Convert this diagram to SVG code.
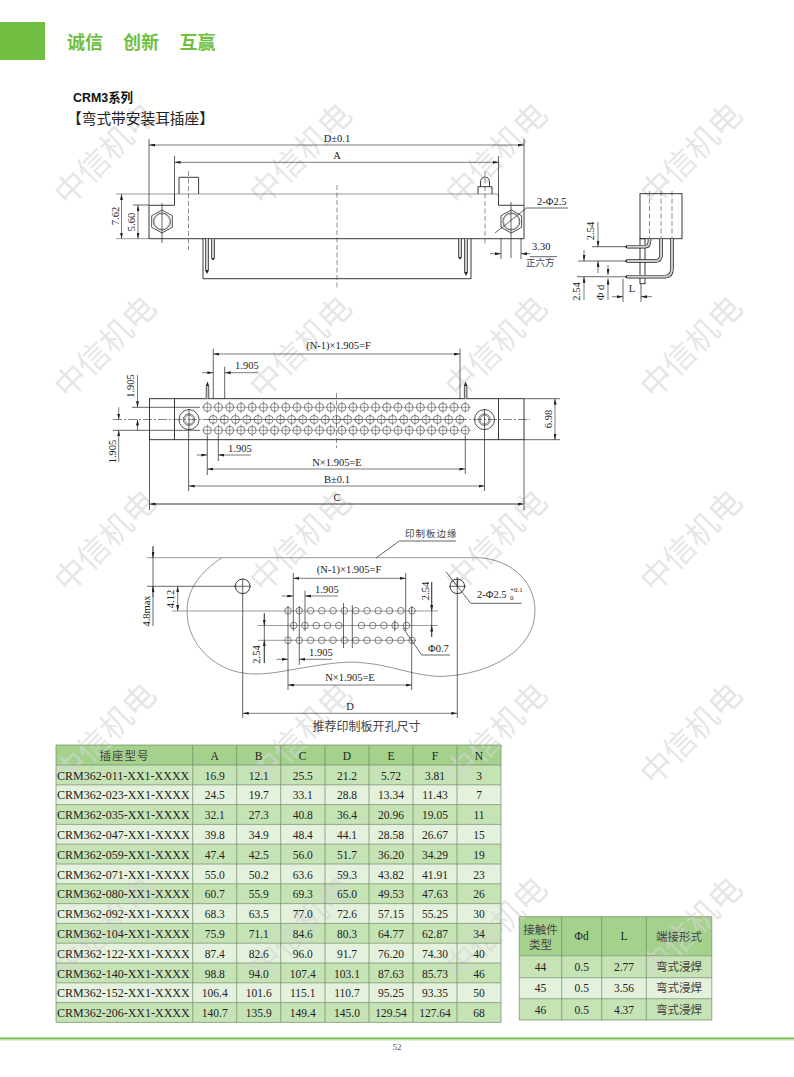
<svg xmlns="http://www.w3.org/2000/svg" xmlns:xlink="http://www.w3.org/1999/xlink" width="794" height="1077" viewBox="0 0 794 1077">
<style>
text{font-family:"Liberation Serif","Noto Sans CJK SC",serif;font-size:10.5px;fill:#222}
.m{text-anchor:middle}
.cj{font-family:"Noto Sans CJK SC",sans-serif;fill:#444}
.l{fill:none;stroke:#222;stroke-width:.7}
.o{fill:none;stroke:#222;stroke-width:.9}
.g{fill:none;stroke:#999;stroke-width:1}
.c{fill:none;stroke:#333;stroke-width:.6;stroke-dasharray:9 2 2 2}
.h{fill:none;stroke:#444;stroke-width:.6;stroke-dasharray:5 2.5}
.e{fill:none;stroke:#222;stroke-width:.6;marker-end:url(#a)}
.b{fill:none;stroke:#222;stroke-width:.6;marker-start:url(#a);marker-end:url(#a)}
.po{fill:none;stroke:#222;stroke-width:3.6}
.pi{fill:none;stroke:#ccc;stroke-width:2.2}
.hd{fill:#a4d28c}.d1{fill:#c6e3b6}.d2{fill:#e4f1dc}
.gr{fill:none;stroke:#6f8a66;stroke-width:.7}
.wm{font-family:"Noto Sans CJK SC",sans-serif;font-size:32px;fill:#d6d6d6;fill-opacity:.6;text-anchor:middle}
.t{font-size:11.5px;text-anchor:middle}
.tm{font-size:12px}
</style>
<defs>
<marker id="a" viewBox="0 0 6 3" refX="6" refY="1.5" markerWidth="6" markerHeight="3" markerUnits="userSpaceOnUse" orient="auto-start-reverse"><path d="M0 0L6 1.5L0 3z" fill="#222"/></marker>
<g id="p"><circle r="4" fill="none" stroke="#333" stroke-width=".6"/><path d="M0-6V6M-5.500 0H5.500" stroke="#444" stroke-width=".5"/></g>
<g id="r1"><use href="#p" x="207.300"/><use href="#p" x="218.500"/><use href="#p" x="229.700"/><use href="#p" x="241"/><use href="#p" x="252.200"/><use href="#p" x="263.400"/><use href="#p" x="274.600"/><use href="#p" x="285.800"/><use href="#p" x="297"/><use href="#p" x="308.300"/><use href="#p" x="319.500"/><use href="#p" x="330.700"/><use href="#p" x="341.900"/><use href="#p" x="353.100"/><use href="#p" x="364.300"/><use href="#p" x="375.600"/><use href="#p" x="386.800"/><use href="#p" x="398"/><use href="#p" x="409.200"/><use href="#p" x="420.400"/><use href="#p" x="431.600"/><use href="#p" x="442.900"/><use href="#p" x="454.100"/><use href="#p" x="465.300"/></g>
<g id="r2"><use href="#p" x="213.100"/><use href="#p" x="224.300"/><use href="#p" x="235.500"/><use href="#p" x="246.800"/><use href="#p" x="258"/><use href="#p" x="269.200"/><use href="#p" x="280.400"/><use href="#p" x="291.600"/><use href="#p" x="302.800"/><use href="#p" x="314.100"/><use href="#p" x="325.300"/><use href="#p" x="336.500"/><use href="#p" x="347.700"/><use href="#p" x="358.900"/><use href="#p" x="370.100"/><use href="#p" x="381.400"/><use href="#p" x="392.600"/><use href="#p" x="403.800"/><use href="#p" x="415"/><use href="#p" x="426.200"/><use href="#p" x="437.400"/><use href="#p" x="448.700"/><use href="#p" x="459.900"/></g>
<circle id="q" r="3.300" fill="none" stroke="#333" stroke-width=".6"/>
<g id="q1"><use href="#q" x="288"/><use href="#q" x="299.300"/><use href="#q" x="310.600"/><use href="#q" x="321.800"/><use href="#q" x="333.100"/><use href="#q" x="344.400"/><use href="#q" x="355.700"/><use href="#q" x="367"/><use href="#q" x="378.200"/><use href="#q" x="389.500"/><use href="#q" x="400.800"/><use href="#q" x="412"/></g>
<g id="hx"><path d="M0-11.500L10.300-5.800V5.800L0 11.500L-10.300 5.800V-5.800Z" fill="none" stroke="#222" stroke-width=".8"/><circle r="8.500" fill="none" stroke="#222" stroke-width=".7"/><circle r="7.600" fill="none" stroke="#555" stroke-width=".4"/></g>
<g id="mt"><circle r="10" fill="none" stroke="#222" stroke-width=".8"/><circle r="5.700" fill="none" stroke="#222" stroke-width=".7"/><circle r="4.400" fill="none" stroke="#222" stroke-width=".5"/></g>
</defs>
<rect width="794" height="1077" fill="#fff"/>
<g id="table-fills">
<rect class="hd" x="56" y="745" width="445" height="20"/>
<rect class="d1" x="56" y="765" width="445" height="19.800"/><rect class="d2" x="56" y="784.800" width="445" height="19.800"/><rect class="d1" x="56" y="804.600" width="445" height="19.800"/><rect class="d2" x="56" y="824.400" width="445" height="19.800"/><rect class="d1" x="56" y="844.200" width="445" height="19.800"/><rect class="d2" x="56" y="864" width="445" height="19.800"/><rect class="d1" x="56" y="883.800" width="445" height="19.800"/><rect class="d2" x="56" y="903.600" width="445" height="19.800"/><rect class="d1" x="56" y="923.400" width="445" height="19.800"/><rect class="d2" x="56" y="943.200" width="445" height="19.800"/><rect class="d1" x="56" y="963" width="445" height="19.800"/><rect class="d2" x="56" y="982.800" width="445" height="19.800"/><rect class="d1" x="56" y="1002.600" width="445" height="19.800"/>
<rect class="hd" x="519.300" y="916.700" width="192.500" height="39"/><rect class="d1" x="519.300" y="955.700" width="192.500" height="22"/><rect class="d2" x="519.300" y="977.700" width="192.500" height="21"/><rect class="d1" x="519.300" y="998.700" width="192.500" height="21.300"/>
</g>
<g id="watermark">
<text class="wm" transform="translate(113 162) rotate(-45)">中信机电</text><text class="wm" transform="translate(308.500 162) rotate(-45)">中信机电</text><text class="wm" transform="translate(504 162) rotate(-45)">中信机电</text><text class="wm" transform="translate(699 162) rotate(-45)">中信机电</text>
<text class="wm" transform="translate(113 355) rotate(-45)">中信机电</text><text class="wm" transform="translate(308.500 355) rotate(-45)">中信机电</text><text class="wm" transform="translate(504 355) rotate(-45)">中信机电</text><text class="wm" transform="translate(699 355) rotate(-45)">中信机电</text>
<text class="wm" transform="translate(113 549) rotate(-45)">中信机电</text><text class="wm" transform="translate(308.500 549) rotate(-45)">中信机电</text><text class="wm" transform="translate(504 549) rotate(-45)">中信机电</text><text class="wm" transform="translate(699 549) rotate(-45)">中信机电</text>
<text class="wm" transform="translate(113 742) rotate(-45)">中信机电</text><text class="wm" transform="translate(308.500 742) rotate(-45)">中信机电</text><text class="wm" transform="translate(504 742) rotate(-45)">中信机电</text><text class="wm" transform="translate(699 742) rotate(-45)">中信机电</text>
<text class="wm" transform="translate(113 936) rotate(-45)">中信机电</text><text class="wm" transform="translate(308.500 936) rotate(-45)">中信机电</text><text class="wm" transform="translate(504 936) rotate(-45)">中信机电</text><text class="wm" transform="translate(699 936) rotate(-45)">中信机电</text>
</g>
<g id="header">
<rect x="0" y="22" width="45" height="38" fill="#70bf41"/>
<text x="67" y="48.500" class="cj" style="font-size:18px;font-weight:700;fill:#70bf41">诚信</text>
<text x="123" y="48.500" class="cj" style="font-size:18px;font-weight:700;fill:#70bf41">创新</text>
<text x="179.500" y="48.500" class="cj" style="font-size:18px;font-weight:700;fill:#70bf41">互赢</text>
<text x="73" y="102" textLength="60" lengthAdjust="spacingAndGlyphs" style="font-family:'Liberation Sans','Noto Sans CJK SC',sans-serif;font-size:13px;font-weight:700;fill:#111">CRM3系列</text>
<text x="67" y="124" class="cj" style="font-size:14.700px;fill:#222">【弯式带安装耳插座】</text>
</g>
<g id="front-view">
<path class="g" d="M116 194H498.500M116 238.700H149"/>
<path class="o" d="M174.500 194V205.300H149V238.700H524V205.300H498.500V194M203 238.700V278.700H471V238.700M179 194V177.300H198.600V194"/>
<path class="l" d="M149 139V205M524 139V205M174.500 156V194M498.500 156V194"/>
<path class="b" d="M149 145H524"/>
<path class="b" d="M174.500 162.300H498.500"/>
<text class="m" x="337" y="141.500">D±0.1</text>
<text class="m" x="337" y="158.500">A</text>
<path class="h" d="M188.500 171V250M337 185V288M485 171V245"/>
<path class="l" d="M162 203V243M511 202V258"/>
<use href="#hx" x="162" y="221.500"/><use href="#hx" x="511.300" y="221.500"/>
<path class="o" d="M478 194V186.700H480.500V183Q480.500 177 485 177Q489.500 177 489.500 183V186.700H492V194M480.500 186.700H489.500"/>
<path class="po" d="M207 238.700V270M213 238.700V258M460 238.700V257M466 238.700V272"/>
<path class="pi" d="M207 238.700V270M213 238.700V258M460 238.700V257M466 238.700V272"/>
<path d="M205 270H209L207 274ZM211 258H215L213 260.500ZM458 257H462L460 259.500ZM464 272H468L466 276Z" fill="#222"/>
<path class="l" d="M133 205H149"/>
<path class="b" d="M121.500 194V238.700"/>
<path class="b" d="M138 205.300V238.700"/>
<text class="m" transform="translate(118.500 216) rotate(-90)">7.62</text>
<text class="m" transform="translate(134.500 222) rotate(-90)">5.60</text>
<path class="l" d="M495 233L526.600 208H568M501 238V259M521 238V259"/>
<path class="e" d="M490 253.700H501"/><path class="e" d="M530.500 253.700H521"/>
<path class="l" d="M530 256.700H557"/>
<text x="537" y="205">2-Φ2.5</text>
<text x="532" y="250">3.30</text>
<text x="526" y="266" class="cj" style="font-size:9.500px">正六方</text>
</g>
<g id="side-view">
<rect class="o" x="640" y="193.700" width="42" height="45"/>
<rect class="o" x="640" y="238.700" width="5" height="45"/>
<path class="h" d="M649.500 191V238M661 191V238M672 191V238"/>
<path class="po" d="M627 246.700H645Q649.500 246.700 649.500 241V238.700M627 261H655Q661 261 661 255V238.700M627 276.700H665Q672 276.700 672 268V238.700"/>
<path class="pi" d="M627 246.700H645Q649.500 246.700 649.500 241V238.700M627 261H655Q661 261 661 255V238.700M627 276.700H665Q672 276.700 672 268V238.700"/>
<path d="M627 245V248.400L624.500 246.700ZM627 259.300V262.700L624.500 261ZM627 275V278.400L624.500 276.700Z" fill="#222"/>
<path class="l" d="M592 246.700H625M578 261H625M577 276.700H603"/>
<path class="g" d="M603 276.700H625" style="stroke-width:1.500"/>
<path class="e" d="M598 222V246.700"/><path class="e" d="M598 273V261"/>
<path class="e" d="M584 250V261"/><path class="e" d="M584 300V276.700"/>
<path class="e" d="M608 265V274.900"/><path class="e" d="M608 300V278.500"/>
<path class="l" d="M623 279V302M641 284V302"/>
<path class="e" d="M612 296.700H623"/><path class="e" d="M652 296.700H641"/>
<text class="m" transform="translate(593.500 231) rotate(-90)">2.54</text>
<text class="m" transform="translate(580 291.500) rotate(-90)">2.54</text>
<text class="m" transform="translate(604 292.500) rotate(-90)">Φ d</text>
<text class="m" x="632" y="292">L</text>
</g>
<g id="bottom-view">
<rect class="o" x="149.500" y="398.700" width="374.500" height="41"/>
<path class="o" d="M174.500 398.700V439.700M498.500 398.700V439.700"/>
<use href="#mt" x="189" y="419.600"/><use href="#mt" x="484.500" y="419.600"/>
<use href="#r1" y="407.300"/><use href="#r2" y="419.500"/><use href="#r1" y="430.300"/>
<path class="c" d="M113 419.500H530"/>
<path class="h" d="M336.500 393V448"/>
<path class="l" d="M132 407.300H200M113 430.300H200M189 409V430M484.500 409V430"/>
<path class="po" d="M207.500 386V398.700M465.600 386V398.700" style="stroke-width:3.400"/><path class="pi" d="M207.500 386V398.700M465.600 386V398.700" style="stroke-width:2"/>
<path d="M205.800 386H209.200L207.500 381.500ZM463.900 386H467.300L465.600 381.500Z" fill="#222"/>
<path class="l" d="M213.300 348.700V399M460 348.700V399M224.700 366.700V399"/>
<path class="b" d="M213.300 354H460"/>
<path class="e" d="M202 372.700H213.300"/><path class="e" d="M257.300 372.700H224.700"/>
<path class="e" d="M137.500 375V407.300"/><path class="e" d="M137.500 431V419.500"/>
<path class="e" d="M118.700 407.300V419.500"/><path class="e" d="M118.700 462V430.300"/>
<path class="l" d="M207.300 436V475M218.300 436V461M465.300 436V474M188.600 430V491M484.500 430V491M149.500 440V510M524 440V510M524 398.700H560M524 439.700H560"/>
<path class="e" d="M196.700 455H207.300"/><path class="e" d="M250.700 455H218.300"/>
<path class="b" d="M207.300 469H465.300"/>
<path class="b" d="M188.600 486H484.500"/>
<path class="g" d="M152 504H520" style="stroke-width:1.200"/>
<path class="b" d="M149.500 504H524"/>
<path class="b" d="M555 398.700V439.700"/>
<text class="m" x="338.500" y="349">(N-1)×1.905=F</text>
<text x="235" y="369">1.905</text>
<text x="228" y="452">1.905</text>
<text class="m" x="337" y="466">N×1.905=E</text>
<text class="m" x="337" y="483">B±0.1</text>
<text class="m" x="337" y="501">C</text>
<text class="m" transform="translate(134 386) rotate(-90)">1.905</text>
<text class="m" transform="translate(115.500 451.500) rotate(-90)">1.905</text>
<text class="m" transform="translate(551.500 419) rotate(-90)">6.98</text>
</g>
<g id="pcb-cutout">
<path class="l" style="stroke:#666" d="M222 557.700C200 572 187 590 187 611C187 645 215 669 243 673C253 675 270 674 290 670C320 665 345 660 365 663C390 665 415 676 440 676.500C490 675 535 650 535 611C535 580 510 560 480 557.700"/>
<path class="g" d="M147 557.700H480M171.700 611H438M257.700 625.500H438M257.700 640.300H416"/>
<path class="l" d="M147 586.300H235"/>
<circle cx="242.700" cy="586.300" r="7.300" class="o"/><circle cx="457.300" cy="586.300" r="7.300" class="o"/>
<path class="l" d="M234 586.300H251M449 586.300H466M457.300 577V586"/>
<use href="#q1" y="610.700"/><use href="#q1" y="640.300"/>
<use href="#q" x="293.700" y="625.500"/><use href="#q" x="305" y="625.500"/><use href="#q" x="316.300" y="625.500"/><use href="#q" x="327.500" y="625.500"/><use href="#q" x="338.800" y="625.500"/><use href="#q" x="361.400" y="625.500"/><use href="#q" x="372.700" y="625.500"/><use href="#q" x="383.900" y="625.500"/><use href="#q" x="395.200" y="625.500"/><use href="#q" x="406.500" y="625.500"/>
<path class="l" d="M293.300 573V631M405.700 573V631M305 590.700V631M288 606V690M299.300 606V665M411.700 606V690M394.800 620V631M343.500 603V648M352.300 605V648M242.700 579V718M457.300 579V718"/>
<path class="b" d="M293.300 578.300H405.700"/>
<path class="e" d="M281.700 596H293.300"/><path class="e" d="M338 596H305"/>
<path class="e" d="M276.700 659.300H288"/><path class="e" d="M332 659.300H299.300"/>
<path class="b" d="M288 685H411.700"/>
<path class="b" d="M242.700 713.300H457.300"/>
<path class="l" d="M153 546V626"/>
<path class="e" d="M153 546.500V557.700"/><path class="e" d="M153 597V586.300"/>
<path class="b" d="M177.700 586.300V611"/>
<path class="l" d="M264.300 613.300V663M431.700 582V637"/>
<path class="e" d="M264.300 613.300V625.500"/><path class="e" d="M264.300 663V640.300"/>
<path class="e" d="M431.700 582V611"/><path class="e" d="M431.700 637V625.500"/>
<path class="l" d="M403 628L421.700 655H450M376 558L399.300 541H456M446 571.700L470.700 603.300H521.700"/>
<text class="m" transform="translate(149.500 611) rotate(-90)">4.8max</text>
<text class="m" transform="translate(174 599) rotate(-90)">4.12</text>
<text class="m" transform="translate(260 654.500) rotate(-90)">2.54</text>
<text class="m" transform="translate(428.500 591) rotate(-90)">2.54</text>
<text class="m" x="349" y="573">(N-1)×1.905=F</text>
<text x="315" y="593">1.905</text>
<text x="309" y="656">1.905</text>
<text class="m" x="350" y="681">N×1.905=E</text>
<text class="m" x="350" y="710">D</text>
<text x="428" y="652">Φ0.7</text>
<text x="405" y="537" class="cj" style="font-size:9.500px;letter-spacing:1px">印制板边缘</text>
<text x="477" y="598">2-Φ2.5</text>
<text x="510" y="592" style="font-size:7px">+0.1</text>
<text x="510" y="599.500" style="font-size:7px">0</text>
<text class="m cj" x="366.500" y="731" style="font-size:12px">推荐印制板开孔尺寸</text>
</g>
<g id="table-sizes">
<path class="gr" d="M56 745H501V1022.400H56ZM192.700 745V1022.400M236.700 745V1022.400M280.700 745V1022.400M325 745V1022.400M369 745V1022.400M413 745V1022.400M457 745V1022.400M56 765H501M56 784.800H501M56 804.600H501M56 824.400H501M56 844.200H501M56 864H501M56 883.800H501M56 903.600H501M56 923.400H501M56 943.200H501M56 963H501M56 982.800H501M56 1002.600H501"/>
<text class="cj m" x="124.500" y="760" style="font-size:11.500px;letter-spacing:1px">插座型号</text>
<g><text class="t" x="214.700" y="760">A</text><text class="t" x="258.700" y="760">B</text><text class="t" x="302.700" y="760">C</text><text class="t" x="347" y="760">D</text><text class="t" x="391" y="760">E</text><text class="t" x="435" y="760">F</text><text class="t" x="479" y="760">N</text></g>
<text class="tm" x="57" y="779.500">CRM362-011-XX1-XXXX</text><text class="t" x="214.700" y="779.500">16.9</text><text class="t" x="258.700" y="779.500">12.1</text><text class="t" x="302.700" y="779.500">25.5</text><text class="t" x="347" y="779.500">21.2</text><text class="t" x="391" y="779.500">5.72</text><text class="t" x="435" y="779.500">3.81</text><text class="t" x="479" y="779.500">3</text>
<text class="tm" x="57" y="799.300">CRM362-023-XX1-XXXX</text><text class="t" x="214.700" y="799.300">24.5</text><text class="t" x="258.700" y="799.300">19.7</text><text class="t" x="302.700" y="799.300">33.1</text><text class="t" x="347" y="799.300">28.8</text><text class="t" x="391" y="799.300">13.34</text><text class="t" x="435" y="799.300">11.43</text><text class="t" x="479" y="799.300">7</text>
<text class="tm" x="57" y="819.100">CRM362-035-XX1-XXXX</text><text class="t" x="214.700" y="819.100">32.1</text><text class="t" x="258.700" y="819.100">27.3</text><text class="t" x="302.700" y="819.100">40.8</text><text class="t" x="347" y="819.100">36.4</text><text class="t" x="391" y="819.100">20.96</text><text class="t" x="435" y="819.100">19.05</text><text class="t" x="479" y="819.100">11</text>
<text class="tm" x="57" y="838.900">CRM362-047-XX1-XXXX</text><text class="t" x="214.700" y="838.900">39.8</text><text class="t" x="258.700" y="838.900">34.9</text><text class="t" x="302.700" y="838.900">48.4</text><text class="t" x="347" y="838.900">44.1</text><text class="t" x="391" y="838.900">28.58</text><text class="t" x="435" y="838.900">26.67</text><text class="t" x="479" y="838.900">15</text>
<text class="tm" x="57" y="858.700">CRM362-059-XX1-XXXX</text><text class="t" x="214.700" y="858.700">47.4</text><text class="t" x="258.700" y="858.700">42.5</text><text class="t" x="302.700" y="858.700">56.0</text><text class="t" x="347" y="858.700">51.7</text><text class="t" x="391" y="858.700">36.20</text><text class="t" x="435" y="858.700">34.29</text><text class="t" x="479" y="858.700">19</text>
<text class="tm" x="57" y="878.500">CRM362-071-XX1-XXXX</text><text class="t" x="214.700" y="878.500">55.0</text><text class="t" x="258.700" y="878.500">50.2</text><text class="t" x="302.700" y="878.500">63.6</text><text class="t" x="347" y="878.500">59.3</text><text class="t" x="391" y="878.500">43.82</text><text class="t" x="435" y="878.500">41.91</text><text class="t" x="479" y="878.500">23</text>
<text class="tm" x="57" y="898.300">CRM362-080-XX1-XXXX</text><text class="t" x="214.700" y="898.300">60.7</text><text class="t" x="258.700" y="898.300">55.9</text><text class="t" x="302.700" y="898.300">69.3</text><text class="t" x="347" y="898.300">65.0</text><text class="t" x="391" y="898.300">49.53</text><text class="t" x="435" y="898.300">47.63</text><text class="t" x="479" y="898.300">26</text>
<text class="tm" x="57" y="918.100">CRM362-092-XX1-XXXX</text><text class="t" x="214.700" y="918.100">68.3</text><text class="t" x="258.700" y="918.100">63.5</text><text class="t" x="302.700" y="918.100">77.0</text><text class="t" x="347" y="918.100">72.6</text><text class="t" x="391" y="918.100">57.15</text><text class="t" x="435" y="918.100">55.25</text><text class="t" x="479" y="918.100">30</text>
<text class="tm" x="57" y="937.900">CRM362-104-XX1-XXXX</text><text class="t" x="214.700" y="937.900">75.9</text><text class="t" x="258.700" y="937.900">71.1</text><text class="t" x="302.700" y="937.900">84.6</text><text class="t" x="347" y="937.900">80.3</text><text class="t" x="391" y="937.900">64.77</text><text class="t" x="435" y="937.900">62.87</text><text class="t" x="479" y="937.900">34</text>
<text class="tm" x="57" y="957.700">CRM362-122-XX1-XXXX</text><text class="t" x="214.700" y="957.700">87.4</text><text class="t" x="258.700" y="957.700">82.6</text><text class="t" x="302.700" y="957.700">96.0</text><text class="t" x="347" y="957.700">91.7</text><text class="t" x="391" y="957.700">76.20</text><text class="t" x="435" y="957.700">74.30</text><text class="t" x="479" y="957.700">40</text>
<text class="tm" x="57" y="977.500">CRM362-140-XX1-XXXX</text><text class="t" x="214.700" y="977.500">98.8</text><text class="t" x="258.700" y="977.500">94.0</text><text class="t" x="302.700" y="977.500">107.4</text><text class="t" x="347" y="977.500">103.1</text><text class="t" x="391" y="977.500">87.63</text><text class="t" x="435" y="977.500">85.73</text><text class="t" x="479" y="977.500">46</text>
<text class="tm" x="57" y="997.300">CRM362-152-XX1-XXXX</text><text class="t" x="214.700" y="997.300">106.4</text><text class="t" x="258.700" y="997.300">101.6</text><text class="t" x="302.700" y="997.300">115.1</text><text class="t" x="347" y="997.300">110.7</text><text class="t" x="391" y="997.300">95.25</text><text class="t" x="435" y="997.300">93.35</text><text class="t" x="479" y="997.300">50</text>
<text class="tm" x="57" y="1017.100">CRM362-206-XX1-XXXX</text><text class="t" x="214.700" y="1017.100">140.7</text><text class="t" x="258.700" y="1017.100">135.9</text><text class="t" x="302.700" y="1017.100">149.4</text><text class="t" x="347" y="1017.100">145.0</text><text class="t" x="391" y="1017.100">129.54</text><text class="t" x="435" y="1017.100">127.64</text><text class="t" x="479" y="1017.100">68</text>
</g>
<g id="table-contacts">
<path class="gr" d="M519.300 916.700H711.800V1020H519.300ZM561.700 916.700V1020M601.700 916.700V1020M646.300 916.700V1020M519.300 955.700H711.800M519.300 977.700H711.800M519.300 998.700H711.800"/>
<text class="m cj" x="540.500" y="934" style="font-size:11.500px">接触件</text><text class="m cj" x="540.500" y="949" style="font-size:11.500px">类型</text>
<text class="t" x="581.700" y="940">Φd</text><text class="t" x="624" y="940">L</text><text class="m cj" x="679" y="941" style="font-size:11.500px">端接形式</text>
<text class="t" x="540.500" y="971">44</text><text class="t" x="581.700" y="971">0.5</text><text class="t" x="624" y="971">2.77</text><text class="m cj" x="679" y="971" style="font-size:11.500px">弯式浸焊</text>
<text class="t" x="540.500" y="992">45</text><text class="t" x="581.700" y="992">0.5</text><text class="t" x="624" y="992">3.56</text><text class="m cj" x="679" y="992" style="font-size:11.500px">弯式浸焊</text>
<text class="t" x="540.500" y="1013.500">46</text><text class="t" x="581.700" y="1013.500">0.5</text><text class="t" x="624" y="1013.500">4.37</text><text class="m cj" x="679" y="1013.500" style="font-size:11.500px">弯式浸焊</text>
</g>
<g id="footer">
<path d="M0 1038.500H794" stroke="#70bf41" stroke-width="2"/><path d="M0 1040H794" stroke="#c6e3b6" stroke-width="1"/>
<text class="m" x="397" y="1050" style="font-size:9px;fill:#555">52</text>
</g>
</svg>
